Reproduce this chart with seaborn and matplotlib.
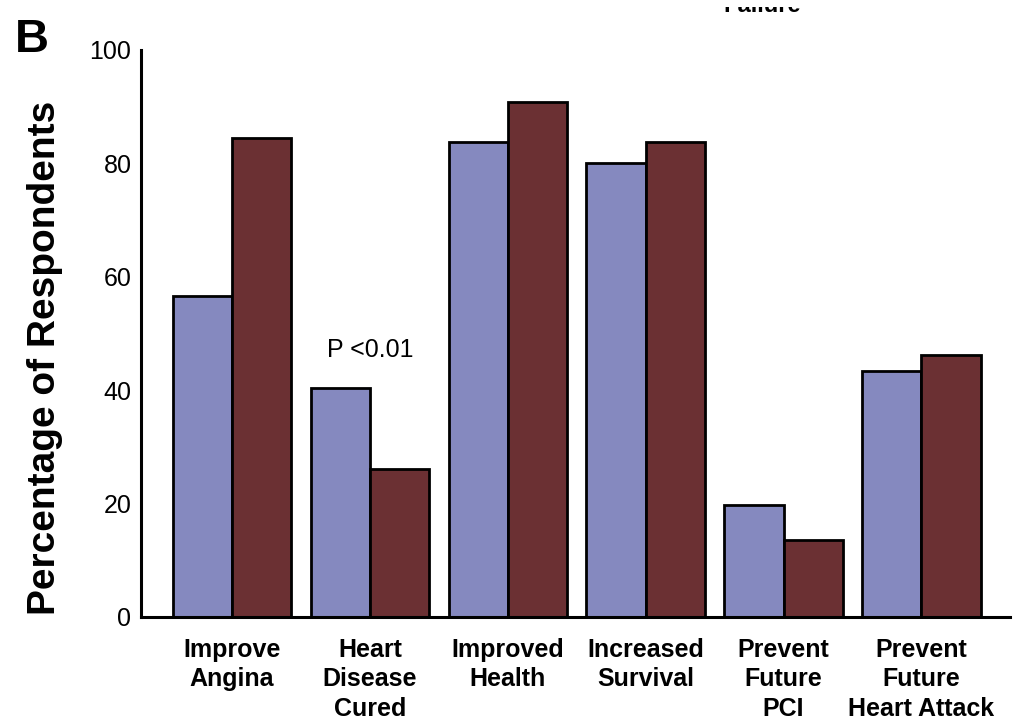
import matplotlib
matplotlib.use("Agg")
import matplotlib.pyplot as plt
from matplotlib.patches import Rectangle
import pandas as pd
import seaborn as sns

# values
categories = [
    "Improve\nAngina",
    "Heart\nDisease\nCured",
    "Improved\nHealth",
    "Increased\nSurvival",
    "Prevent\nFuture\nPCI",
    "Prevent\nFuture\nHeart Attack",
]
group_a = [56.6, 40.4, 83.8, 80.0, 19.8, 43.4]
group_b = [84.5, 26.1, 90.8, 83.8, 13.6, 46.2]
series_names = ["Group A", "Group B"]
y_ticks = [0, 20, 40, 60, 80, 100]

BLUE = "#8589bf"
RED = "#6b3033"

df = pd.DataFrame({
    "category": categories * 2,
    "series": [series_names[0]] * len(categories) + [series_names[1]] * len(categories),
    "value": group_a + group_b,
})

sns.set_theme(style="white")
plt.rcParams["font.family"] = ["Liberation Sans", "DejaVu Sans"]
plt.rcParams["text.color"] = "black"
plt.rcParams["xtick.color"] = "black"
plt.rcParams["ytick.color"] = "black"
plt.rcParams["axes.labelcolor"] = "black"

fig = plt.figure(figsize=(10.3, 7.24), dpi=100)
ax = fig.add_axes([0.137, 0.148, 0.844, 0.783])

sns.barplot(
    data=df, x="category", y="value", hue="series",
    palette=[BLUE, RED], saturation=1, width=0.86, edgecolor="black", linewidth=2,
    legend=False, ax=ax, errorbar=None,
)

ax.set_ylim(0, 100)
ax.set_xlim(-0.66, 5.645)
ax.set_yticks(y_ticks)
ax.set_yticklabels([str(t) for t in y_ticks], fontsize=18)
ax.tick_params(axis="y", length=0, pad=7)
ax.tick_params(axis="x", length=0, pad=15)
for lbl in ax.get_xticklabels():
    lbl.set_fontsize(18)
    lbl.set_fontweight("bold")
    lbl.set_linespacing(1.3)
ax.set_xlabel("")
ax.set_ylabel("Percentage of Respondents", fontsize=28, fontweight="bold")
ax.yaxis.set_label_coords(-0.09, 0.457)

for side in ["top", "right"]:
    ax.spines[side].set_visible(False)
for side in ["left", "bottom"]:
    ax.spines[side].set_color("black")
    ax.spines[side].set_linewidth(2.2)

ax.text(1.0, 47, "P <0.01", ha="center", va="center", fontsize=18)

fig.text(0.014, 0.928, "B", fontsize=34, fontweight="bold", ha="left", va="baseline")
# legend fragment clipped at the top edge of the source image
fig.text(0.74, 1 - 12 / 724, "Failure", fontsize=17, fontweight="bold", ha="center", va="baseline")
fig.patches.append(Rectangle((0.6, 1 - 7 / 724), 0.3, 7 / 724, transform=fig.transFigure,
                             facecolor="white", edgecolor="none", zorder=10))

fig.savefig("out.png", dpi=100)
